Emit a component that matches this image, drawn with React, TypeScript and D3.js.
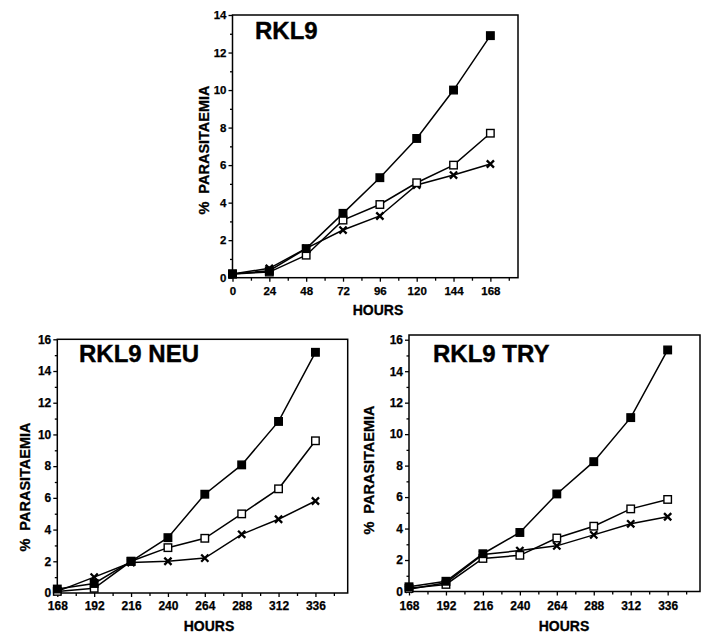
import React, { useEffect, useRef } from 'react';
import * as d3 from 'd3';

// Horas de muestreo
const hoursTop = [0, 24, 48, 72, 96, 120, 144, 168];
const hoursBottom = [168, 192, 216, 240, 264, 288, 312, 336];

// RKL9
const rkl9Filled = [0.2, 0.37, 1.55, 3.43, 5.33, 7.42, 10.0, 12.9];
const rkl9Open = [0.2, 0.3, 1.2, 3.07, 3.9, 5.06, 6.0, 7.7];
const rkl9Cross = [0.2, 0.5, 1.56, 2.54, 3.29, 4.94, 5.47, 6.06];

// RKL9 NEU
const neuFilled = [0.25, 0.6, 2.0, 3.49, 6.23, 8.08, 10.82, 15.18];
const neuOpen = [0.1, 0.3, 2.0, 2.86, 3.45, 4.99, 6.57, 9.6];
const neuCross = [0.1, 1.0, 1.92, 2.0, 2.2, 3.7, 4.65, 5.8];

// RKL9 TRY
const tryFilled = [0.3, 0.65, 2.4, 3.75, 6.2, 8.25, 11.05, 15.35];
const tryOpen = [0.2, 0.45, 2.1, 2.3, 3.4, 4.15, 5.25, 5.85];
const tryCross = [0.15, 0.55, 2.35, 2.6, 2.9, 3.6, 4.3, 4.75];

// Ticks
const yTicksTop = [0, 2, 4, 6, 8, 10, 12, 14];
const yTicksBottom = [0, 2, 4, 6, 8, 10, 12, 14, 16];

const FONT = '"Liberation Sans", Arial, Helvetica, sans-serif';

// Configuración de cada panel
const panels = [
    {
        title: 'RKL9', titleX: 255, titleY: 39,
        left: 232.5, right: 518, top: 15, bottom: 277.7,
        xDomain: [0, 186], yDomain: [0, 14],
        xTicks: hoursTop, yTicks: yTicksTop, tickFont: 11.5,
        xLabelY: 295, yLabelX: 204, yLabelY: 150, hoursX: 378, hoursY: 315,
        hours: hoursTop, filled: rkl9Filled, open: rkl9Open, cross: rkl9Cross,
    },
    {
        title: 'RKL9 NEU', titleX: 79, titleY: 362,
        left: 57.3, right: 347.7, top: 339.3, bottom: 593,
        xDomain: [168, 357], yDomain: [0, 16],
        xTicks: hoursBottom, yTicks: yTicksBottom, tickFont: 12,
        xLabelY: 609.5, yLabelX: 25, yLabelY: 487, hoursX: 209, hoursY: 631,
        hours: hoursBottom, filled: neuFilled, open: neuOpen, cross: neuCross,
    },
    {
        title: 'RKL9 TRY', titleX: 433, titleY: 362,
        left: 409, right: 700, top: 335, bottom: 591.5,
        xDomain: [168, 357], yDomain: [0, 16.3],
        xTicks: hoursBottom, yTicks: yTicksBottom, tickFont: 12,
        xLabelY: 610, yLabelX: 369, yLabelY: 470, hoursX: 564, hoursY: 631,
        hours: hoursBottom, filled: tryFilled, open: tryOpen, cross: tryCross,
    },
];

const App = () => {
    const svgRef = useRef(null);

    useEffect(() => {
        const svg = d3.select(svgRef.current);
        svg.selectAll('*').remove();

        panels.forEach(p => {
            const x = d3.scaleLinear().domain(p.xDomain).range([p.left, p.right]);
            const y = d3.scaleLinear().domain(p.yDomain).range([p.bottom, p.top]);
            const g = svg.append('g');

            // marco
            g.append('rect')
                .attr('x', p.left).attr('y', p.top)
                .attr('width', p.right - p.left).attr('height', p.bottom - p.top)
                .attr('fill', 'none').attr('stroke', '#000').attr('stroke-width', 1.5);

            // ticks menores
            const xMinor = d3.range(p.xDomain[0] + 12, p.xDomain[1], 24);
            const yMinor = d3.range(1, Math.floor(p.yDomain[1]), 2);
            g.append('g')
                .attr('transform', `translate(0,${p.bottom})`)
                .call(d3.axisBottom(x).tickValues(xMinor).tickSize(3).tickSizeOuter(0).tickFormat(() => ''))
                .call(a => a.select('.domain').remove());
            g.append('g')
                .attr('transform', `translate(${p.left},0)`)
                .call(d3.axisLeft(y).tickValues(yMinor).tickSize(2.5).tickSizeOuter(0).tickFormat(() => ''))
                .call(a => a.select('.domain').remove());

            // eje X
            const xAxis = g.append('g')
                .attr('transform', `translate(0,${p.bottom})`)
                .call(d3.axisBottom(x).tickValues(p.xTicks).tickSize(4).tickSizeOuter(0));
            xAxis.select('.domain').remove();
            xAxis.selectAll('text')
                .attr('y', p.xLabelY - p.bottom).attr('dy', null);

            // eje Y
            const yAxis = g.append('g')
                .attr('transform', `translate(${p.left},0)`)
                .call(d3.axisLeft(y).tickValues(p.yTicks).tickSize(4).tickSizeOuter(0).tickPadding(2));
            yAxis.select('.domain').remove();

            g.selectAll('.tick line').attr('stroke', '#000').attr('stroke-width', 1.3);
            g.selectAll('.tick text')
                .attr('fill', '#000')
                .attr('stroke', '#000').attr('stroke-width', 0.25)
                .style('font-size', `${p.tickFont}px`)
                .style('font-family', FONT)
                .style('font-weight', 'bold');

            // etiquetas
            g.append('text')
                .attr('x', p.hoursX).attr('y', p.hoursY)
                .attr('text-anchor', 'middle')
                .attr('stroke', '#000').attr('stroke-width', 0.3)
                .style('font-family', FONT).style('font-weight', 'bold').style('font-size', '14px')
                .text('HOURS');
            g.append('text')
                .attr('transform', `translate(${p.yLabelX},${p.yLabelY}) rotate(-90)`)
                .attr('text-anchor', 'middle').attr('dominant-baseline', 'central')
                .attr('stroke', '#000').attr('stroke-width', 0.3)
                .style('font-family', FONT).style('font-weight', 'bold').style('font-size', '14.5px')
                .style('white-space', 'pre')
                .text('%  PARASITAEMIA');
            g.append('text')
                .attr('x', p.titleX).attr('y', p.titleY)
                .attr('stroke', '#000').attr('stroke-width', 0.4)
                .style('font-family', FONT).style('font-weight', 'bold').style('font-size', '24px')
                .text(p.title);

            // series
            const line = d3.line().x(d => x(d[0])).y(d => y(d[1]));
            const series = [
                { key: 'cross', values: p.cross },
                { key: 'open', values: p.open },
                { key: 'filled', values: p.filled },
            ];
            series.forEach(s => {
                const pts = p.hours.map((h, i) => [h, s.values[i]]);
                g.append('path')
                    .datum(pts)
                    .attr('d', line)
                    .attr('fill', 'none').attr('stroke', '#000').attr('stroke-width', 1.5);
            });
            series.forEach(s => {
                const pts = p.hours.map((h, i) => [h, s.values[i]]);
                if (s.key === 'cross') {
                    const r = 3.6;
                    g.append('g').selectAll('path')
                        .data(pts).join('path')
                        .attr('d', d => {
                            const cx = x(d[0]), cy = y(d[1]);
                            return `M${cx - r},${cy - r}L${cx + r},${cy + r}M${cx - r},${cy + r}L${cx + r},${cy - r}`;
                        })
                        .attr('stroke', '#000').attr('stroke-width', 2.3).attr('fill', 'none');
                } else {
                    const sz = 7.5;
                    g.append('g').selectAll('rect')
                        .data(pts).join('rect')
                        .attr('x', d => x(d[0]) - sz / 2).attr('y', d => y(d[1]) - sz / 2)
                        .attr('width', sz).attr('height', sz)
                        .attr('fill', s.key === 'filled' ? '#000' : '#fff')
                        .attr('stroke', '#000').attr('stroke-width', 1.4);
                }
            });
        });
    }, []);

    return (
        <div style={{ position: 'absolute', left: 0, top: 0 }}>
            <svg ref={svgRef} width={715} height={644} style={{ display: 'block', background: '#fff' }}></svg>
        </div>
    );
};

export default App;
